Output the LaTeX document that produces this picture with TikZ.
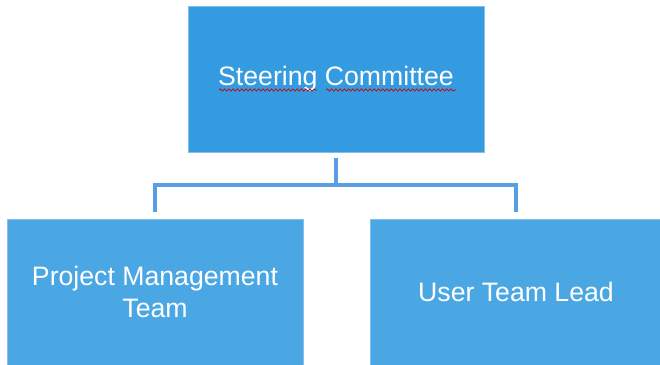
\documentclass[tikz,border=0pt]{standalone}
\usepackage{fontspec}
\setmainfont{Liberation Sans}
\usetikzlibrary{decorations.pathmorphing}
\definecolor{topblue}{HTML}{349BE1}
\definecolor{botblue}{HTML}{4BA7E3}
\definecolor{edgeblue}{HTML}{7FC0EE}
\definecolor{connblue}{HTML}{579FE2}
\tikzset{
  box/.style={draw=edgeblue, line width=0.6pt, inner sep=0pt, anchor=center,
    text=white, font=\fontsize{20}{24}\selectfont, align=center},
  conn/.style={draw=connblue, line width=2.4pt, line cap=butt, line join=miter},
  squiggle/.style={draw=red!80!black, line width=0.5pt,
    decorate, decoration={snake, amplitude=0.9, segment length=3.2}}
}
\begin{document}
\begin{tikzpicture}[x=0.75pt,y=-0.75pt]
\useasboundingbox (0,0) rectangle (660,364);
\fill[white] (0,0) rectangle (660,364);
\node[box, fill=topblue, minimum width=296*0.75pt, minimum height=146*0.75pt] (sc) at (336,79) {};
\node[text=white, font=\fontsize{20}{24}\selectfont] (sct) at (336,79) {Steering Committee};
\node[box, fill=botblue, minimum width=296*0.75pt, minimum height=146*0.75pt] (pm) at (155,292) {Project Management\\Team};
\node[box, fill=botblue, minimum width=292*0.75pt, minimum height=146*0.75pt] (ut) at (516,292) {User Team Lead};
\coordinate (j) at (336,185);
\draw[conn, shorten <=4] (sc.south) -- (j);
\draw[conn, shorten >=5] (j) -| (pm.north);
\draw[conn, shorten >=5] (j) -| (ut.north);
\draw[squiggle] (219,90) -- (317,90);
\draw[squiggle] (326,90) -- (456,90);
\end{tikzpicture}
\end{document}
